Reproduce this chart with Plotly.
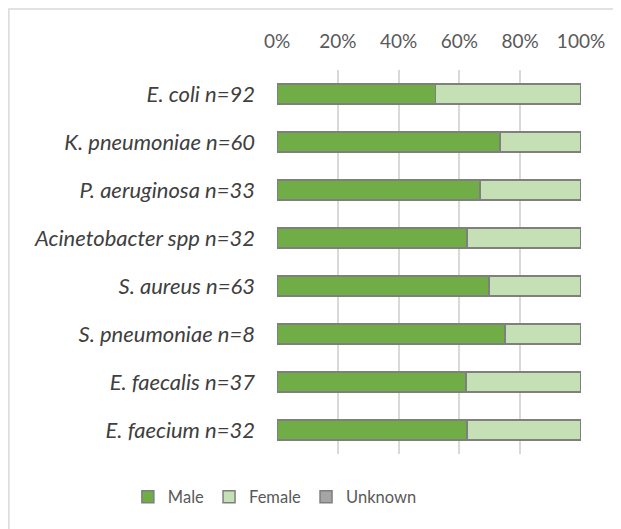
import plotly.graph_objects as go

# organisms, top to bottom as in the chart
organisms = ["E. coli n=92", "K. pneumoniae n=60", "P. aeruginosa n=33",
             "Acinetobacter spp n=32", "S. aureus n=63", "S. pneumoniae n=8",
             "E. faecalis n=37", "E. faecium n=32"]
male = [52.2, 73.3, 66.7, 62.5, 69.8, 75.0, 62.2, 62.5]
female = [47.8, 26.7, 33.3, 37.5, 30.2, 25.0, 37.8, 37.5]
unknown = [0, 0, 0, 0, 0, 0, 0, 0]
x_ticks = [0, 20, 40, 60, 80, 100]
x_ticklabels = ["0%", "20%", "40%", "60%", "80%", "100%"]

series = [("Male", male, "#70AD47"),
          ("Female", female, "#C5E0B4"),
          ("Unknown", unknown, "#A5A5A5")]

fig = go.Figure()
for name, vals, col in series:
    fig.add_trace(go.Bar(
        y=organisms, x=vals, name=name, orientation="h",
        marker=dict(color=col, line=dict(color="#7F7F7F", width=1.5)),
    ))

fig.update_layout(
    width=621, height=529,
    barmode="stack", bargap=0.58,
    margin=dict(l=269, r=48, t=62, b=83),
    paper_bgcolor="white", plot_bgcolor="white",
    font=dict(family="Lato", size=17, color="#595959"),
    showlegend=True,
    legend=dict(orientation="h", x=-0.007, xanchor="center", y=-0.112, yanchor="middle",
                font=dict(family="Lato", size=16.5, color="#595959"), traceorder="normal"),
    xaxis=dict(side="top", range=[0, 100], tickvals=x_ticks, ticktext=x_ticklabels,
               showgrid=True, gridcolor="#D9D9D9", gridwidth=1.5, zeroline=False,
               showline=False, ticks="", ticklabelstandoff=17,
               tickfont=dict(family="Lato", size=19, color="#595959")),
    yaxis=dict(autorange="reversed", showgrid=False, showline=False, ticks="",
               ticklabelstandoff=21,
               tickfont=dict(family="Lato", size=22, color="#404040", style="italic")),
    # outer chart frame
    shapes=[dict(type="rect", xref="paper", yref="paper",
                 x0=-0.882, x1=1.2, y0=-0.25, y1=1.159,
                 line=dict(color="#D9D9D9", width=1.5), layer="below")],
)

fig.write_html("out.html")
